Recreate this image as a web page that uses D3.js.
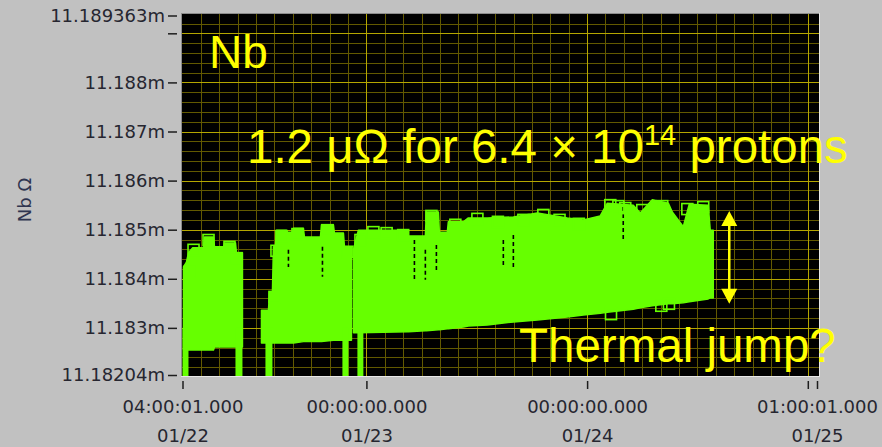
<!DOCTYPE html>
<html>
<head>
<meta charset="utf-8">
<script src="https://cdn.jsdelivr.net/npm/d3@7"></script>
<style>
  html, body { margin: 0; padding: 0; background: #c1c1c1; }
  svg { display: block; }
</style>
</head>
<body>
<svg id="chart" width="882" height="447"></svg>
<script>
// Nb resistance (mΩ) vs. time; time is given in hours after 01/22 00:00.

// Y axis ticks
const yTickValues = [11.18204, 11.183, 11.184, 11.185, 11.186, 11.187, 11.188, 11.189, 11.189363];
const yTickLabels = ["11.18204m", "11.183m", "11.184m", "11.185m", "11.186m", "11.187m", "11.188m", "", "11.189363m"];

// X axis ticks
const xTickHours = [4 + 1 / 3600, 24, 48, 72, 73 + 1 / 3600];
const xTickTimes = ["04:00:01.000", "00:00:00.000", "00:00:00.000", "", "01:00:01.000"];
const xTickDates = ["01/22", "01/23", "01/24", "", "01/25"];

// Run 1: spread of readings (upper / lower envelope)
const run1Hours = [4.11, 4.43, 4.65, 5.09, 6.28, 6.39, 7.37, 7.48, 8.46, 8.57, 9.76, 9.87, 10.52];
const run1Upper = [11.18424, 11.18434, 11.18453, 11.18463, 11.18463, 11.18485, 11.18485, 11.18465, 11.18465, 11.18473, 11.18473, 11.18453, 11.18453];
const run1Lower = [11.18255, 11.18255, 11.18255, 11.18255, 11.18255, 11.18255, 11.18255, 11.18261, 11.18261, 11.18261, 11.18261, 11.18261, 11.18261];

// Run 2
const run2Hours = [12.59, 13.35, 13.46, 13.78, 13.89, 14.11, 14.22, 15.30, 15.41, 15.96, 16.07, 17.15, 17.26, 19.00, 19.11, 20.41, 20.52, 21.50, 21.61, 22.37];
const run2Upper = [11.18336, 11.18336, 11.18373, 11.18373, 11.18465, 11.18465, 11.18499, 11.18499, 11.18495, 11.18495, 11.18503, 11.18503, 11.18485, 11.18485, 11.18510, 11.18510, 11.18493, 11.18493, 11.18465, 11.18465];
const run2Lower = [11.18269, 11.18269, 11.18269, 11.18269, 11.18269, 11.18269, 11.18269, 11.18269, 11.18269, 11.18269, 11.18269, 11.18272, 11.18272, 11.18272, 11.18272, 11.18275, 11.18275, 11.18275, 11.18275, 11.18275];

// Run 3
const run3Hours = [22.59, 23.13, 28.46, 28.57, 30.41, 30.52, 31.83, 31.93, 32.80, 32.91, 34.54, 35.09, 37.15, 39.98, 42.59, 45.85, 47.59, 49.43, 50.20, 53.02, 53.78, 55.09, 56.83, 57.26, 58.46, 59.11, 61.17, 61.39, 61.72];
const run3Upper = [11.18459, 11.18499, 11.18499, 11.18487, 11.18487, 11.18536, 11.18536, 11.18495, 11.18495, 11.18516, 11.18516, 11.18524, 11.18524, 11.18526, 11.18534, 11.18524, 11.18520, 11.18528, 11.18554, 11.18550, 11.18534, 11.18561, 11.18554, 11.18536, 11.18506, 11.18552, 11.18550, 11.18499, 11.18499];
const run3Lower = [11.18290, 11.18290, 11.18292, 11.18292, 11.18294, 11.18294, 11.18296, 11.18296, 11.18298, 11.18298, 11.18302, 11.18304, 11.18306, 11.18312, 11.18316, 11.18322, 11.18326, 11.18330, 11.18332, 11.18338, 11.18341, 11.18345, 11.18349, 11.18349, 11.18351, 11.18353, 11.18359, 11.18361, 11.18361];

// Short dropouts where the reading falls off scale
const dropoutStart = [4.00, 9.76, 13.02, 21.39, 23.02];
const dropoutEnd   = [4.65, 10.52, 13.78, 22.04, 23.67];

// Individual outlying points drawn with square markers
const markerHours  = [4.76, 5.20, 6.83, 9.11, 9.87, 14.00, 14.22, 14.76, 16.50, 19.76, 21.93, 23.35, 24.76, 26.20, 28.00, 31.07, 33.67, 36.07, 38.30, 41.07, 43.24, 45.00, 47.10, 50.52, 50.60, 51.40, 52.15, 54.00, 56.07, 56.17, 56.90, 58.90, 60.63];
const markerValues = [11.18414, 11.18459, 11.18479, 11.18465, 11.18442, 11.18363, 11.18457, 11.18487, 11.18491, 11.18499, 11.18455, 11.18479, 11.18495, 11.18493, 11.18489, 11.18528, 11.18510, 11.18522, 11.18516, 11.18520, 11.18530, 11.18520, 11.18512, 11.18550, 11.18328, 11.18548, 11.18544, 11.18540, 11.18345, 11.18548, 11.18349, 11.18542, 11.18546];

// Missing samples inside the band (short gaps)
const gapHours = [15.52, 19.22, 29.22, 30.41, 31.61, 38.89, 39.98, 51.93];
const gapTop   = [11.18459, 11.18465, 11.18479, 11.18459, 11.18469, 11.18479, 11.18489, 11.18546];
const gapBot   = [11.18424, 11.18404, 11.18398, 11.18398, 11.18418, 11.18422, 11.18418, 11.18479];

// Spread marker (double arrow)
const arrowHour = 63.46;
const arrowLow = 11.18349;
const arrowHigh = 11.18538;

// ---------------------------------------------------------------
const hoursToDate = h => new Date(2019, 0, 22, 0, 0, 0, Math.round(h * 3600000));

const plot = { left: 182, right: 819, top: 14, bottom: 376 };
const green = "#66ff00";
const yellow = "#ffff00";

const x = d3.scaleTime()
  .domain([hoursToDate(xTickHours[0]), hoursToDate(xTickHours[xTickHours.length - 1])])
  .range([182.5, 817]);
const y = d3.scaleLinear()
  .domain([yTickValues[0], yTickValues[yTickValues.length - 1]])
  .range([375, 15.5]);

const svg = d3.select("#chart");

svg.append("defs").append("clipPath").attr("id", "plotClip")
  .append("rect")
  .attr("x", plot.left).attr("y", plot.top)
  .attr("width", plot.right - plot.left).attr("height", plot.bottom - plot.top);

// plot background
svg.append("rect")
  .attr("x", plot.left).attr("y", plot.top)
  .attr("width", plot.right - plot.left).attr("height", plot.bottom - plot.top)
  .attr("fill", "#000");

const grid = svg.append("g").attr("clip-path", "url(#plotClip)");

// horizontal grid: minor every 0.0002, major every 0.001
const yMinor = d3.range(11.1822, 11.1894, 0.0002).filter(v => Math.abs(v * 1000 - Math.round(v * 1000)) > 1e-6);
const yMajor = d3.range(11.183, 11.1894, 0.001);
grid.selectAll(".hmin").data(yMinor).join("line")
  .attr("x1", plot.left).attr("x2", plot.right)
  .attr("y1", d => Math.round(y(d)) + 0.5).attr("y2", d => Math.round(y(d)) + 0.5)
  .attr("stroke", "#625900").attr("stroke-width", 1);

// vertical grid: minor every 2 hours, major at midnight
const [t0, t1] = x.domain();
const xMinor = d3.timeHour.every(2).range(t0, t1).filter(d => d.getHours() !== 0);
const xMajor = d3.timeDay.range(t0, t1);
grid.selectAll(".vmin").data(xMinor).join("line")
  .attr("y1", plot.top).attr("y2", plot.bottom)
  .attr("x1", d => Math.round(x(d)) + 0.5).attr("x2", d => Math.round(x(d)) + 0.5)
  .attr("stroke", "#625900").attr("stroke-width", 1);

grid.selectAll(".hmaj").data(yMajor).join("line")
  .attr("x1", plot.left).attr("x2", plot.right)
  .attr("y1", d => Math.round(y(d)) + 0.5).attr("y2", d => Math.round(y(d)) + 0.5)
  .attr("stroke", "#b4a600").attr("stroke-width", 1);
grid.selectAll(".vmaj").data(xMajor).join("line")
  .attr("y1", plot.top).attr("y2", plot.bottom)
  .attr("x1", d => Math.round(x(d)) + 0.5).attr("x2", d => Math.round(x(d)) + 0.5)
  .attr("stroke", "#b4a600").attr("stroke-width", 1);

// data
const dataG = svg.append("g").attr("clip-path", "url(#plotClip)");
const area = d3.area()
  .x(d => x(d.t))
  .y0(d => y(d.lo))
  .y1(d => y(d.hi));

const runs = [
  [run1Hours, run1Upper, run1Lower],
  [run2Hours, run2Upper, run2Lower],
  [run3Hours, run3Upper, run3Lower]
];
runs.forEach(([hrs, up, lo]) => {
  const rows = hrs.map((h, i) => ({ t: hoursToDate(h), hi: up[i], lo: lo[i] }));
  dataG.append("path").datum(rows)
    .attr("d", area)
    .attr("fill", green)
    .attr("stroke", green).attr("stroke-width", 1.5).attr("stroke-linejoin", "round");
});

// dropouts down to the bottom of the scale
dataG.selectAll(".drop").data(dropoutStart).join("rect")
  .attr("x", (d) => x(hoursToDate(d)))
  .attr("width", (d, i) => x(hoursToDate(dropoutEnd[i])) - x(hoursToDate(d)))
  .attr("y", y(11.1830))
  .attr("height", y(yTickValues[0]) - y(11.1830) + 4)
  .attr("fill", green);

// gaps in the sampled band
dataG.selectAll(".gap").data(gapHours).join("line")
  .attr("x1", d => x(hoursToDate(d))).attr("x2", d => x(hoursToDate(d)))
  .attr("y1", (d, i) => y(gapTop[i])).attr("y2", (d, i) => y(gapBot[i]))
  .attr("stroke", "#000").attr("stroke-width", 1.6).attr("stroke-dasharray", "4,3");

// square markers
const mSize = 11;
dataG.selectAll(".mk").data(markerHours).join("rect")
  .attr("x", d => x(hoursToDate(d)) - mSize / 2)
  .attr("y", (d, i) => y(markerValues[i]) - mSize / 2)
  .attr("width", mSize).attr("height", mSize)
  .attr("fill", "none").attr("stroke", green).attr("stroke-width", 1.6);

// axes
const axisColor = "#1e1e1e";
const labelColor = "#262630";
const yAxis = d3.axisLeft(y)
  .tickValues(yTickValues)
  .tickFormat((d, i) => yTickLabels[i])
  .tickSize(9).tickPadding(3);
const yAxisG = svg.append("g").attr("transform", "translate(177,0)").call(yAxis);
yAxisG.select(".domain").remove();
yAxisG.selectAll(".tick line").attr("stroke", axisColor).attr("stroke-width", 1.5);
yAxisG.selectAll(".tick text")
  .attr("font-family", "DejaVu Sans, sans-serif").attr("font-size", 18)
  .attr("fill", labelColor);

const xAxis = d3.axisBottom(x)
  .tickValues(xTickHours.map(hoursToDate))
  .tickFormat("")
  .tickSize(8);
const xAxisG = svg.append("g").attr("transform", "translate(0,381)").call(xAxis);
xAxisG.select(".domain").remove();
xAxisG.selectAll(".tick line").attr("stroke", axisColor).attr("stroke-width", 1.5);
xAxisG.selectAll(".tick").each(function (d, i) {
  const t = d3.select(this).append("text")
    .attr("font-family", "DejaVu Sans, sans-serif").attr("font-size", 18)
    .attr("fill", labelColor).attr("text-anchor", "middle");
  t.append("tspan").attr("x", 0).attr("y", 32).text(xTickTimes[i]);
  t.append("tspan").attr("x", 0).attr("y", 61).text(xTickDates[i]);
});

// y axis title
svg.append("text")
  .attr("transform", "translate(31,200) rotate(-90)")
  .attr("text-anchor", "middle")
  .attr("font-family", "DejaVu Sans, sans-serif").attr("font-size", 18)
  .attr("fill", "#2f3550")
  .text("Nb Ω");

// inset frame around plot
const frame = svg.append("g");
frame.append("line").attr("x1", plot.left - 1).attr("x2", plot.right + 1).attr("y1", plot.top - 0.5).attr("y2", plot.top - 0.5).attr("stroke", "#8c8c8c");
frame.append("line").attr("x1", plot.left - 0.5).attr("x2", plot.left - 0.5).attr("y1", plot.top - 1).attr("y2", plot.bottom + 1).attr("stroke", "#8c8c8c");
frame.append("line").attr("x1", plot.left - 1).attr("x2", plot.right + 1).attr("y1", plot.bottom + 0.5).attr("y2", plot.bottom + 0.5).attr("stroke", "#e8e8e8");
frame.append("line").attr("x1", plot.right + 0.5).attr("x2", plot.right + 0.5).attr("y1", plot.top - 1).attr("y2", plot.bottom + 1).attr("stroke", "#e8e8e8");

// annotations
const note = svg.append("g")
  .attr("font-family", "Liberation Sans, Arial, sans-serif")
  .attr("fill", yellow);

note.append("text").attr("x", 209).attr("y", 68).attr("font-size", 46).text("Nb");

const dose = note.append("text").attr("x", 247).attr("y", 163).attr("font-size", 47.5);
dose.append("tspan").text("1.2 μΩ for 6.4 × 10");
dose.append("tspan").attr("font-size", 29).attr("dy", -18).text("14");
dose.append("tspan").attr("dy", 18).text(" protons");

note.append("text").attr("x", 519).attr("y", 362).attr("font-size", 47.5).text("Thermal jump?");

// double arrow showing the spread
const ax = x(hoursToDate(arrowHour));
const yTop = y(arrowHigh), yBot = y(arrowLow);
const headH = 15, headW = 8;
note.append("line")
  .attr("x1", ax).attr("x2", ax)
  .attr("y1", yTop + headH - 1).attr("y2", yBot - headH + 1)
  .attr("stroke", yellow).attr("stroke-width", 2.5);
note.append("path")
  .attr("d", `M${ax},${yTop} L${ax - headW},${yTop + headH} L${ax + headW},${yTop + headH} Z`)
  .attr("fill", yellow);
note.append("path")
  .attr("d", `M${ax},${yBot} L${ax - headW},${yBot - headH} L${ax + headW},${yBot - headH} Z`)
  .attr("fill", yellow);
</script>
</body>
</html>
